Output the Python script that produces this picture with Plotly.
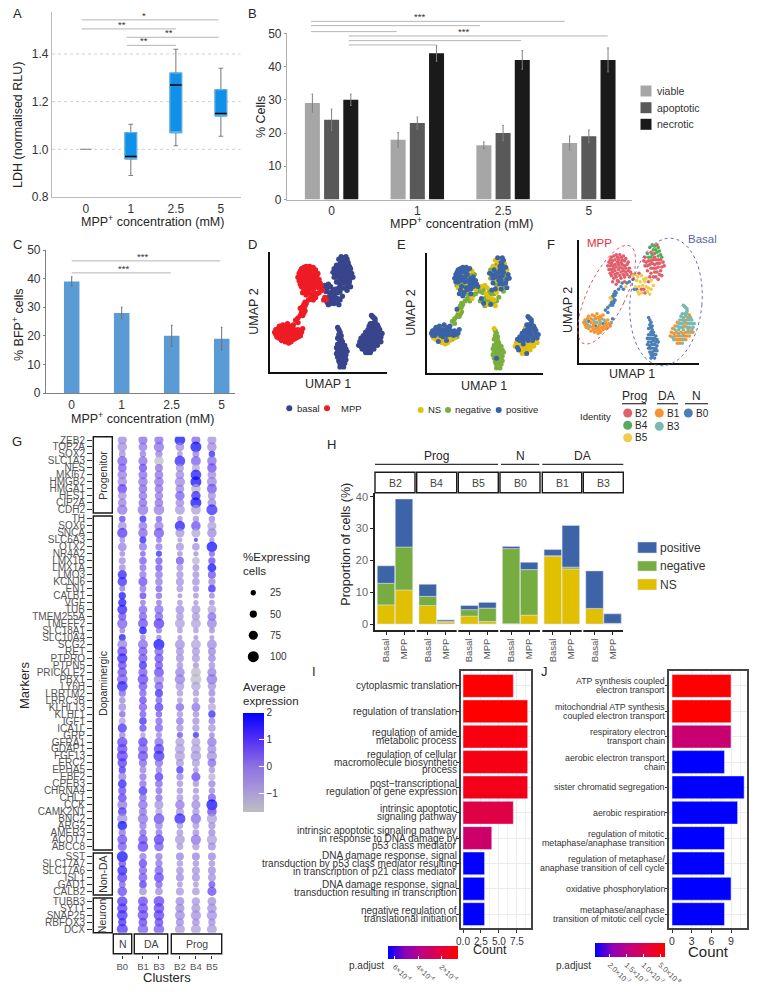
import numpy as np
import plotly.graph_objects as go

FONT = "Liberation Sans"
W, H = 761, 994

# ---------- Panel A ----------
a_cats = ["0", "1", "2.5", "5"]
a_low = [1.0, 0.89, 1.015, 1.055]
a_q1 = [1.0, 0.96, 1.07, 1.14]
a_med = [1.0, 0.97, 1.27, 1.15]
a_q3 = [1.0, 1.07, 1.32, 1.25]
a_high = [1.0, 1.105, 1.42, 1.34]
a_sig = [(-0.09, 2.95, 1.543, "*", 1.3), (-0.09, 2.0, 1.505, "**", 0.8),
         (0.91, 2.95, 1.47, "**", 1.85), (0.91, 2.0, 1.436, "**", 1.3)]

# ---------- Panel B ----------
b_cats = ["0", "1", "2.5", "5"]
b_viable = [29, 18, 16.3, 17]
b_apoptotic = [24, 23, 20, 19]
b_necrotic = [30, 44, 42, 42]
b_viable_err = [2.7, 2.2, 1.0, 2.1]
b_apoptotic_err = [3.2, 1.8, 2.3, 1.9]
b_necrotic_err = [1.7, 2.4, 2.8, 3.6]
b_sig = [(-0.24, 2.72, 53.6, "***", 1.02), (-0.24, 1.73, 52.3, "", 0), (-0.24, 0.76, 50.5, "", 0),
         (0.2, 3.22, 49.2, "***", 1.54), (0.2, 2.21, 47.8, "", 0), (0.2, 1.21, 46.5, "", 0)]

# ---------- Panel C ----------
c_cats = ["0", "1", "2.5", "5"]
c_vals = [39, 28, 20, 19]
c_err = [1.6, 2, 3.7, 4]
c_sig = [(0, 2.97, 46.2, "***", 1.42), (0, 1.98, 42, "***", 1.03)]

# ---------- UMAP (D, E, F): cells, in plot units 0-100 ----------
ll_top = [(4,33),(5,31),(5,35),(6,33),(7,36),(7,31),(8,34),(8,38),(9,30),(10,33),(10,36),(11,39),(12,31),(12,35),
          (13,33),(13,38),(14,30),(14,36),(15,33),(15,40),(16,37),(17,31),(17,35),(18,33),(18,38),(19,36),(20,32),
          (21,30),(21,35),(22,33),(23,31),(25,32),(26,30),(27,33),(20,39),(24,35),(28,36)]
ll_rim = [(6,29),(8,28),(10,26),(11,29),(12,27),(13,25),(14,28),(15,26),(16,24),(16,29),(17,27),(18,25),(19,29),
          (20,27),(22,28),(24,29)]
streak = [(22,43),(24,41),(24,45),(26,47),(27,49),(27,52),(28,50),(28,54),(29,52),(29,56),(30,55),(26,53),(30,58),
          (31,57),(33,60),(35,62),(37,60),(39,62),(36,65),(28,47),(29,49),(30,51),(45,68),(47,62),(46,60),(48,60),
          (42,66),(40,65)]
top_left = [(24,79),(25,76),(25,82),(26,73),(26,79),(26,84),(27,71),(27,76),(27,81),(27,86),(28,74),(28,79),(28,83),
            (29,69),(29,77),(29,87),(30,72),(30,75),(30,80),(30,84),(31,70),(31,78),(31,88),(32,67),(32,73),(32,82),
            (32,86),(33,76),(33,80),(33,84),(34,71),(34,78),(34,88),(35,69),(35,74),(35,82),(35,86),(36,77),(36,80),
            (36,84),(37,72),(37,75),(37,87),(38,70),(38,79),(38,83),(39,74),(39,77),(39,85),(40,72),(40,80),(41,75),
            (41,82),(42,70),(42,77),(43,74),(44,72),(28,66),(31,64),(33,66),(38,66)]
tr_top = [(59,94),(61,96),(63,95),(65,96),(66,94),(62,92),(64,92),(60,90),(57,89),(58,86),(61,88),(63,89),(65,90),
          (67,91),(68,88),(55,86),(60,86),(66,87),(69,86),(63,86)]
tr_low = [(54,83),(56,82),(58,83),(60,83),(62,84),(64,84),(66,84),(68,84),(70,82),(71,79),(55,79),(57,79),(59,80),
          (61,81),(63,80),(65,81),(67,81),(69,78),(60,77),(62,77),(64,77),(66,78),(68,75),(57,75),(60,73),(63,74),
          (65,74),(67,72),(69,71),(62,70),(64,70),(59,70),(66,68)]
bridge = [(45,71),(47,72),(49,70),(50,73),(52,71),(54,68),(55,66),(56,69),(58,66),(60,67),(48,67),(51,66),(53,63),
          (52,60),(50,62),(49,58),(50,56),(52,57),(54,60),(56,62),(58,61),(60,60),(62,63),(55,57),(57,58),(59,56)]
bottom_c = [(58,37),(59,35),(60,33),(59,31),(60,29),(61,30),(58,28),(61,27),(60,25),(62,25),(58,23),(60,23),(62,23),
            (64,22),(57,20),(59,20),(61,20),(63,20),(65,19),(58,17),(60,17),(62,18),(64,17),(66,17),(57,15),(59,14),
            (61,15),(63,15),(65,14),(58,12),(60,12),(62,12),(64,12),(59,9),(61,9),(63,10),(65,10),(60,7),(62,7),
            (64,7),(61,5),(63,4),(60,4)]
tail = [(87,47),(88,46),(89,45),(90,44),(90,42)]
right_up = [(86,40),(88,40),(90,40),(92,39),(85,38),(87,37),(89,38),(91,37),(93,37),(84,35),(86,35),(88,35),(90,35),
            (92,35),(94,35),(82,33),(84,32),(86,32),(88,33),(90,32),(92,32),(94,32),(96,32),(80,30),(82,30),(84,29),
            (86,29),(88,30),(90,29),(92,29),(95,29),(78,28),(80,27),(83,27),(87,27),(91,27),(94,27)]
right_low = [(77,25),(79,24),(81,25),(83,24),(85,25),(87,24),(89,25),(91,25),(93,25),(95,25),(76,22),(78,21),(80,22),
             (82,22),(84,22),(86,22),(88,22),(90,22),(92,22),(79,19),(81,19),(83,19),(85,19),(87,19),(89,19),(82,16),
             (84,16),(86,16)]
# group: points, condition, response pattern (P/G/Y), identity pattern
umap_groups = [
    (ll_top, "MPP", "PPPYPPPPGPPP", "1113110131"),
    (ll_rim, "MPP", "YYPYYYGY", "1"),
    (streak, "MPP", "GGGGGYGGGGGP", "000005"),
    (top_left, "MPP", "PPPGPPYPPPGYPP", "2"),
    (tr_top, "basal", "YPYPPYPG", "4442"),
    (tr_low, "basal", "PPGPPGPYPPG", "2"),
    (bridge, "basal", "GYGYYGGP", "55525"),
    (bottom_c, "basal", "YGGGGGGGGGGGGGGGGGGGGGGGGGGGGGPGGGGGGGGGGGG", "0"),
    (tail, "basal", "P", "3"),
    (right_up, "basal", "PPPPYPPP", "3331"),
    (right_low, "basal", "YYYPYYGY", "1113"),
]
d_colors = {"basal": "#38458C", "MPP": "#EE1C25"}
e_colors = {"G": "#7AAE3E", "Y": "#E3C010", "P": "#3B62A6"}
f_colors = {"2": "#E15F6B", "4": "#5BAA5B", "5": "#F2CB4A", "1": "#F49532", "3": "#78B9B0", "0": "#4C7FB5"}

# ---------- Panel G ----------
g_clusters = ["B0", "B1", "B3", "B2", "B4", "B5"]
g_groups = ["Progenitor", "Dopaminergic", "Non-DA", "Neuron"]
g_progenitor = ["ZEB2","TOP2A","SOX2","SLC1A3","NES","MKI67","HMGB2","HMGA1","HES1","CIP2A","CDH2"]
g_progenitor_pct = [[75,75,75,95,75,75],[80,70,90,70,100,80],[45,40,50,30,45,40],[85,75,80,95,85,80],[70,65,60,60,60,80],
    [80,75,70,70,95,70],[80,80,80,90,100,85],[80,70,70,70,80,85],[70,70,65,80,80,60],[70,70,70,70,100,70],[90,95,95,85,85,100]]
g_progenitor_expr = [[-.3,.3,.3,2,.4,-.5],[-.5,.1,.2,-.3,2,-.3],[-.5,0,0,-.5,0,1.5],[.5,.3,-1.5,1.6,.5,.3],[.5,.8,.2,-.5,-1,.8],
    [0,.3,.2,-.3,1.8,-.3],[-.3,.2,.2,-.3,2,-.2],[1,.3,.2,-.2,-1.2,.7],[-.5,.2,.1,.5,1.5,-.4],[-.1,.3,.2,-.3,2,-.2],[.1,.1,0,-.7,-.8,1.5]]
g_dopa = ["TH","SOX6","SNCA","SLC6A3","OTX2","NR4A2","LMX1B","LMX1A","LMO3","KCNJ6","EN1","CALB1","VGF","TUB","TMEM255A",
    "TMEFF2","SLC18A1","SLC10A4","SCG2","RET","PTPRO","PTPN5","PRICKLE2","PBX1","LY6H","LRRTM2","LRRC3B","KLHL13","KLHL1",
    "IGF1","ICA1L","GRP","GFRA1","GDAP1","FGF13","ERC2","EPHA5","EBF2","CPEB3","CHRNA4","CHL1","CCK","CAMK2N1","BNC2","ARG2",
    "AMER3","ACOT7","ABCC8"]
g_dopa_pct = [[40,45,40,30,40,40],[70,70,75,90,80,75],[90,80,90,75,75,80],[30,45,30,20,8,25],[70,60,50,60,55,95],[30,30,35,30,25,35],
    [45,55,50,60,55,50],[45,45,50,45,45,70],[75,50,55,50,45,60],[80,75,55,60,55,50],[35,45,45,45,40,55],[50,45,40,20,30,30],
    [65,30,30,30,25,30],[85,70,75,70,75,70],[60,60,65,55,60,70],[90,85,95,85,85,85],[30,55,35,30,30,35],[45,30,25,20,20,20],
    [85,85,100,85,85,85],[85,75,75,60,60,60],[90,75,75,60,60,55],[70,60,60,40,35,40],[80,75,85,80,85,75],[95,95,90,90,100,95],
    [95,70,70,70,80,65],[50,50,60,40,40,45],[40,55,45,30,30,40],[55,65,70,65,70,60],[40,45,40,40,40,50],[45,55,50,55,50,45],
    [75,50,60,50,50,55],[40,25,35,35,35,30],[90,80,75,75,75,80],[90,85,90,85,85,75],[100,90,100,90,95,90],[80,65,65,60,60,70],
    [50,45,40,50,30,40],[60,50,70,50,75,50],[70,50,55,40,40,50],[60,70,45,40,35,40],[70,55,50,45,45,60],[85,80,75,80,75,100],
    [70,60,50,60,50,80],[90,90,95,100,90,90],[80,50,55,40,45,50],[50,50,45,45,45,50],[85,80,90,85,90,90],[75,95,80,45,50,60]]
g_dopa_expr = [[1,1.5,.5,-.5,-.4,-.2],[-.5,.1,0,1.8,.8,-.8],[1.1,.4,.7,-.6,-1,-.3],[-.3,1.6,.3,-.7,1.3,-.4],[-.1,.2,.1,-.5,-.5,2],
    [-.2,.5,1.5,-.4,-.4,.5],[-.3,.6,.7,.7,-1.3,.9],[-.3,.3,.7,-.5,-.4,2],[1.6,.1,.2,-.5,-.5,.8],[1.4,.8,.1,-.4,-.5,-.1],
    [.1,.2,.5,-.6,-.4,1.5],[1.9,1,.3,-.5,-.5,0],[1.8,.2,.2,-.6,-.6,-.3],[1.6,.4,.3,-.4,-.7,-.9],[.8,.5,.5,-.6,-.7,.3],
    [.5,.8,1.1,-.8,-.9,-.1],[0,2,.2,-.6,-.7,-.3],[1.8,-.1,0,-.5,-.5,-.5],[-.1,.3,2,-.4,-.9,-.3],[.9,.6,.5,-.5,-.6,-.2],
    [1.5,.7,.8,-.4,-.7,-.2],[.9,1.4,.8,-.5,-.4,-.4],[.8,.6,.9,-.1,-1.4,-.1],[.5,.9,-.2,0,-1.5,.1],[1.6,.7,.5,-.7,-1,-.5],
    [.4,.5,1.4,-.7,-.6,-.2],[-.2,.9,.5,-.7,-.6,-.2],[-.3,.6,1.1,.4,.2,-1],[.4,.6,.6,-.5,-.4,1.5],[-.8,1.4,.4,.1,-.5,0],
    [1.3,.9,.5,-.4,-.6,-.6],[-.2,-.7,-.1,.8,1.5,-.1],[1,1.1,.3,-.8,-.9,.1],[.9,.5,1.1,-.8,-.9,-.4],[1,.8,1.3,-.8,-.7,-.5],
    [1.1,.4,.3,-.6,-.8,.3],[1.3,0,0,1.3,-.5,-.5],[0,.2,1.2,-.1,.9,-1.2],[1.6,.3,.4,-.5,-.5,-.1],[.9,1.3,.3,-.5,-.5,-.2],
    [1,.3,.3,-.6,-.6,.6],[.1,.3,-.5,.1,-.3,2],[1.2,.2,-1,-.6,-.6,.9],[-.4,.2,.8,1.6,.3,-.8],[2,.1,0,-.6,-.6,-.4],
    [.2,.4,.2,-.6,-.5,-.3],[.8,.8,1.1,-.7,.2,-.8],[.6,1,.6,-.6,-.7,-.4]]
g_nonda = ["SST","SLC17A7","SLC17A6","ISL1","GAD1","CALB2"]
g_nonda_pct = [[100,50,50,60,60,60],[55,65,50,40,40,40],[85,65,70,55,60,60],[85,70,85,60,60,60],[45,55,50,30,30,45],[80,55,55,60,55,75]]
g_nonda_expr = [[2,.1,.1,-.1,-.1,-.2],[.8,1,.2,-.6,-.5,-.5],[1.6,.5,.5,-.4,-.5,-.3],[1.1,.6,1,-.3,-.5,-.4],[.5,1.1,.5,-.5,-.6,.8],[.9,-.4,-.3,-.6,-.7,.9]]
g_neuron = ["TUBB3","SYT1","SNAP25","RBFOX3","DCX"]
g_neuron_pct = [[90,85,95,70,65,70],[90,90,95,75,75,80],[95,95,95,85,90,90],[65,70,70,60,55,50],[100,95,95,85,85,85]]
g_neuron_expr = [[1.2,.9,1,-.3,-.6,-.4],[1.1,.8,.9,-.3,-.6,-.4],[1.3,.8,1,-.3,-.5,-.4],[1.3,.9,.9,-.3,-.5,-.4],[1.2,.5,.6,-.7,-.8,-.7]]
g_legend_pct = [25, 50, 75, 100]

# ---------- Panel H ----------
h_clusters = ["B2", "B4", "B5", "B0", "B1", "B3"]
h_conditions = ["Basal", "MPP"]
h_ns = [6, 10.7, 5.8, .6, 2.5, .8, .1, 2.8, 21.4, 17.3, 4.9, .2]
h_negative = [6.8, 13.5, 2.9, .3, 2, 4.2, 23.6, 14.3, .1, .6, 0, 0]
h_positive = [5.5, 15.1, 3.8, .4, 1.3, 1.8, .7, 2.3, 1.9, 13.1, 11.8, 3]

# ---------- Panel I ----------
i_terms = ["cytoplasmic translation", "regulation of translation", "regulation of amide\nmetabolic process",
           "regulation of cellular\nmacromolecule biosynthetic\nprocess",
           "post\u2212transcriptional\nregulation of gene expression", "intrinsic apoptotic\nsignaling pathway",
           "intrinsic apoptotic signaling pathway\nin response to DNA damage by\np53 class mediator",
           "DNA damage response, signal\ntransduction by p53 class mediator resulting\nin transcription of p21 class mediator",
           "DNA damage response, signal\ntransduction resulting in transcription",
           "negative regulation of\ntranslational initiation"]
i_count = [7, 9, 9, 9, 9, 7, 4, 3, 3, 3]
i_padj = [0.57e-4, 0.57e-4, 0.9e-4, 1.05e-4, 1.17e-4, 2.26e-4, 3.1e-4, 6.6e-4, 6.6e-4, 6.6e-4]
i_ticks = [6e-4, 4e-4, 2e-4]
i_ticktext = ["6\u00d710<sup>-4</sup>", "4\u00d710<sup>-4</sup>", "2\u00d710<sup>-4</sup>"]

# ---------- Panel J ----------
j_terms = ["ATP synthesis coupled\nelectron transport", "mitochondrial ATP synthesis\ncoupled electron transport",
           "respiratory electron\ntransport chain", "aerobic electron transport\nchain", "sister chromatid segregation",
           "aerobic respiration", "regulation of mitotic\nmetaphase/anaphase transition",
           "regulation of metaphase/\nanaphase transition of cell cycle", "oxidative phosphorylation",
           "metaphase/anaphase\ntransition of mitotic cell cycle"]
j_count = [9, 9, 9, 8, 11, 10, 8, 8, 9, 8]
j_padj = [.364e-7, .364e-7, 1.3e-7, 2.44e-7, 2.44e-7, 2.44e-7, 2.44e-7, 2.44e-7, 2.44e-7, 2.44e-7]
j_ticks = [2e-7, 1.5e-7, 1e-7, .5e-7]
j_ticktext = ["2.0\u00d710<sup>-7</sup>", "1.5\u00d710<sup>-7</sup>", "1.0\u00d710<sup>-7</sup>", "5.0\u00d710<sup>-8</sup>"]


# ---------- helpers ----------
def PX(x):
    return x / W

def PY(y):
    return 1 - y / H

fig = go.Figure()
layout = dict(width=W, height=H, margin=dict(l=0, r=0, t=0, b=0, autoexpand=False), autosize=False,
              paper_bgcolor="white", plot_bgcolor="rgba(0,0,0,0)", showlegend=False,
              barmode="overlay", font=dict(family=FONT, color="#333333"))
shapes, annots = [], []

def txt(x, y, s, size=12, color="#262626", anchor="center", angle=0, yanchor="middle"):
    annots.append(dict(xref="paper", yref="paper", x=PX(x), y=PY(y), text=s, showarrow=False, textangle=angle,
                       xanchor=anchor, yanchor=yanchor, borderpad=0, borderwidth=0,
                       font=dict(family=FONT, size=size, color=color)))

def rect(x0, y0, x1, y1, fill="white", line="#1a1a1a", lw=1.4):
    shapes.append(dict(type="rect", xref="paper", yref="paper", x0=PX(x0), x1=PX(x1), y0=PY(y0), y1=PY(y1),
                       fillcolor=fill, line=dict(color=line, width=lw)))

def hline(x0, x1, y, color="#BDBDBD", lw=1):
    shapes.append(dict(type="line", xref="paper", yref="paper", x0=PX(x0), x1=PX(x1), y0=PY(y), y1=PY(y),
                       line=dict(color=color, width=lw)))

def dot(x, y, d, color):
    shapes.append(dict(type="circle", xref="paper", yref="paper", x0=PX(x - d / 2), x1=PX(x + d / 2),
                       y0=PY(y - d / 2), y1=PY(y + d / 2), fillcolor=color, line=dict(width=0)))

def panel(n, box, xr, yr, xopts=None, yopts=None):
    x0, y0, x1, y1 = box  # left, top, right, bottom in pixels
    sx = "" if n == 1 else str(n)
    xa = dict(domain=[PX(x0), PX(x1)], range=xr, anchor="y" + sx, showgrid=False, zeroline=False,
              tickfont=dict(size=12, color="#333333"), ticks="")
    ya = dict(domain=[PY(y1), PY(y0)], range=yr, anchor="x" + sx, showgrid=False, zeroline=False,
              tickfont=dict(size=12, color="#333333"), ticks="")
    xa.update(xopts or {})
    ya.update(yopts or {})
    layout["xaxis" + sx] = xa
    layout["yaxis" + sx] = ya
    return "x" + sx, "y" + sx

def sig(box, xr, yr, items, color="#B5B5B5", lw=1):
    x0, y0, x1, y1 = box
    fx = lambda v: x0 + (v - xr[0]) / (xr[1] - xr[0]) * (x1 - x0)
    fy = lambda v: y1 - (v - yr[0]) / (yr[1] - yr[0]) * (y1 - y0)
    for a, b, y, label, lx in items:
        hline(fx(a), fx(b), fy(y), color, lw)
        if label:
            txt(fx(lx), fy(y) - 4.5, label, size=9.5, color="#333333")

# ---------- A ----------
box_a = (52, 12, 240.7, 197)
xr_a, yr_a = [-0.75, 3.44], [0.8, 1.576]
xa, ya = panel(1, box_a, xr_a, yr_a,
               dict(tickvals=[0, 1, 2, 3], ticktext=a_cats, showline=True, linecolor="#BBBBBB", linewidth=1.2),
               dict(tickvals=[0.8, 1.0, 1.2, 1.4], ticktext=["0.8", "1.0", "1.2", "1.4"], showline=True,
                    linecolor="#BBBBBB", linewidth=1.2))
pos = [0, 1, 2, 3]
blue = "#1090E8"
fig.add_trace(go.Box(x=pos, q1=a_q1, median=a_q1, q3=a_q3, lowerfence=a_low, upperfence=a_high, width=0.26,
                     whiskerwidth=0.4, boxpoints=False, fillcolor=blue, line=dict(color="#808080", width=1.1),
                     xaxis=xa, yaxis=ya))
fig.add_trace(go.Box(x=pos[1:], q1=a_q1[1:], median=a_q1[1:], q3=a_q3[1:], lowerfence=a_q1[1:], upperfence=a_q3[1:],
                     width=0.26, boxpoints=False, fillcolor=blue, line=dict(color="#58B4F0", width=1),
                     xaxis=xa, yaxis=ya))
fig.add_trace(go.Box(x=pos[1:], q1=a_med[1:], median=a_med[1:], q3=a_med[1:], lowerfence=a_med[1:], upperfence=a_med[1:],
                     width=0.26, boxpoints=False, line=dict(color="black", width=1.4), xaxis=xa, yaxis=ya))
for g in [1.0, 1.2, 1.4]:
    shapes.append(dict(type="line", xref=xa, yref=ya, x0=xr_a[0], x1=xr_a[1], y0=g, y1=g, layer="below",
                       line=dict(color="#D0D0D0", width=1, dash="dot")))
sig(box_a, xr_a, yr_a, a_sig)
txt(17, 13, "A", 13)
txt(18, 125, "LDH (normalised RLU)", 12.5, angle=-90)
txt(152, 221, "MPP<sup>+</sup> concentration (mM)", 12.5)

# ---------- B ----------
box_b = (287, 33.3, 631.7, 199.5)
xr_b, yr_b = [-0.52, 3.5], [0, 50]
xb, yb = panel(2, box_b, xr_b, yr_b,
               dict(tickvals=pos, ticktext=b_cats, showline=True, linecolor="#B0B0B0", linewidth=1.2),
               dict(tickvals=[0, 10, 20, 30, 40, 50], showline=True, linecolor="#B0B0B0", linewidth=1.2,
                    ticks="outside", ticklen=2, tickcolor="#999999"))
for off, vals, errs, col in [(-0.224, b_viable, b_viable_err, "#A6A6A6"),
                             (0, b_apoptotic, b_apoptotic_err, "#595959"),
                             (0.224, b_necrotic, b_necrotic_err, "#1A1A1A")]:
    fig.add_trace(go.Bar(x=pos, y=vals, width=0.175, offset=off - 0.0875, marker=dict(color=col, line=dict(width=0)),
                         error_y=dict(type="data", array=errs, color="#808080", thickness=1, width=0.8),
                         xaxis=xb, yaxis=yb))
sig(box_b, xr_b, yr_b, b_sig)
txt(253, 13, "B", 13)
txt(261, 117, "% Cells", 12.5, angle=-90)
txt(461.7, 223, "MPP<sup>+</sup> concentration (mM)", 12.5)
for y, name, col in [(91, "viable", "#A6A6A6"), (107.7, "apoptotic", "#595959"), (124.3, "necrotic", "#1A1A1A")]:
    rect(640.5, y - 5.5, 651.5, y + 5.5, fill=col, line=col, lw=0)
    txt(656.7, y, name, 10.5, color="#333333", anchor="left")

# ---------- C ----------
box_c = (46, 250, 235, 393)
xr_c, yr_c = [-0.514, 3.266], [0, 50]
xc, yc = panel(3, box_c, xr_c, yr_c,
               dict(tickvals=pos, ticktext=c_cats, showline=True, linecolor="#808080", linewidth=1.2),
               dict(tickvals=[0, 10, 20, 30, 40, 50], showline=True, linecolor="#808080", linewidth=1.2,
                    ticks="outside", ticklen=2, tickcolor="#808080"))
fig.add_trace(go.Bar(x=pos, y=c_vals, width=0.31, marker=dict(color="#5B9BD5", line=dict(width=0)),
                     error_y=dict(type="data", array=c_err, color="#707070", thickness=1, width=0.8),
                     xaxis=xc, yaxis=yc))
sig(box_c, xr_c, yr_c, c_sig)
txt(17, 244, "C", 13)
txt(18, 325, "% BFP<sup>+</sup> cells", 12.5, angle=-90)
txt(142.3, 418, "MPP<sup>+</sup> concentration (mM)", 12.5)

# ---------- UMAP panels ----------
umap_ax = dict(showline=True, linecolor="#111111", linewidth=1.5, showticklabels=False)
xd, yd = panel(4, (270, 252, 386.7, 371.7), [0, 100], [0, 100], umap_ax, umap_ax)
xe, ye = panel(5, (426.7, 253, 543, 372.7), [0, 100], [0, 100], umap_ax, umap_ax)
xf, yf = panel(6, (579, 240, 699, 363), [0, 100], [0, 100], umap_ax, umap_ax)

cells = []
for pts, cond, resp, ident in umap_groups:
    for i, (u, v) in enumerate(pts):
        cells.append((u, v, cond, resp[i % len(resp)], ident[i % len(ident)]))

for cond in ["basal", "MPP"]:
    sel = [c for c in cells if c[2] == cond]
    fig.add_trace(go.Scatter(x=[c[0] for c in sel], y=[c[1] for c in sel], mode="markers",
                             marker=dict(size=5.4, color=d_colors[cond], line=dict(width=0)), xaxis=xd, yaxis=yd))
for r in ["G", "Y", "P"]:
    sel = [c for c in cells if c[3] == r]
    fig.add_trace(go.Scatter(x=[c[0] for c in sel], y=[c[1] for c in sel], mode="markers",
                             marker=dict(size=5, color=e_colors[r], line=dict(width=0)), xaxis=xe, yaxis=ye))
for k in ["0", "1", "3", "2", "4", "5"]:
    sel = [c for c in cells if c[4] == k]
    fig.add_trace(go.Scatter(x=[c[0] for c in sel], y=[c[1] for c in sel], mode="markers",
                             marker=dict(size=3.6, color=f_colors[k], line=dict(width=0)), xaxis=xf, yaxis=yf))

txt(253, 244, "D", 13)
txt(328, 384, "UMAP 1", 12.5)
txt(254, 311.7, "UMAP 2", 12.5, angle=-90)
for x, col in [(289.3, d_colors["basal"]), (327, d_colors["MPP"])]:
    dot(x, 408.3, 6, col)
txt(296.7, 408.3, "basal", 9.5, anchor="left")
txt(340.7, 408.3, "MPP", 9.5, anchor="left")

txt(401.7, 244, "E", 13)
txt(484, 386, "UMAP 1", 12.5)
txt(411, 312.7, "UMAP 2", 12.5, angle=-90)
for x, col in [(420.7, e_colors["Y"]), (448, e_colors["G"]), (498.7, e_colors["P"])]:
    dot(x, 410, 6, col)
txt(428, 410, "NS", 9.5, anchor="left")
txt(455, 410, "negative", 9.5, anchor="left")
txt(505.7, 410, "positive", 9.5, anchor="left")

txt(551, 244, "F", 13)
txt(631.7, 374, "UMAP 1", 12.5)
txt(568, 310, "UMAP 2", 12.5, angle=-90)
txt(599, 243, "MPP", 11.5, color="#E0303F")
txt(702, 239, "Basal", 11.5, color="#5B63A8")

def ellipse(cx, cy, a, b, tilt, color):
    t = np.linspace(0, 2 * np.pi, 60)
    th = np.radians(tilt)
    ex = a * np.sin(t) * np.sin(th) + b * np.cos(t) * np.cos(th)
    ey = -a * np.sin(t) * np.cos(th) + b * np.cos(t) * np.sin(th)
    path = "M " + " L ".join(f"{PX(cx + p):.4f},{PY(cy + q):.4f}" for p, q in zip(ex, ey)) + " Z"
    shapes.append(dict(type="path", xref="paper", yref="paper", path=path, line=dict(color=color, width=0.9, dash="dot")))

ellipse(230 + 1130 / 3, 220 + 224 / 3, 54, 19, 25.6, "#E0404A")
ellipse(230 + 1308 / 3, 220 + 246 / 3, 64, 36, 5, "#5560B0")

for x0, x1, y, s, tx in [(622, 646, 403.7, "Prog", 634), (657, 678, 403.7, "DA", 666), (685, 708, 403.7, "N", 696)]:
    hline(x0, x1, y, "#333333", 1.2)
    txt(tx, 396, s, 12)
txt(595, 416, "Identity", 9.5)
for x, y, s, k in [(627.7, 413, "B2", "2"), (627.7, 425.3, "B4", "4"), (627.7, 437.7, "B5", "5"),
                   (659.3, 413, "B1", "1"), (659.3, 426.3, "B3", "3"), (688.3, 413, "B0", "0")]:
    dot(x, y, 9, f_colors[k])
    txt(x + 7.3, y, s, 10, anchor="left")

# ---------- G ----------
g_cluster_pos = [0, 1.29, 2.29, 3.6, 4.6, 5.6]
step = 6.97
group_rows = [(g_progenitor, g_progenitor_pct, g_progenitor_expr), (g_dopa, g_dopa_pct, g_dopa_expr),
              (g_nonda, g_nonda_pct, g_nonda_expr), (g_neuron, g_neuron_pct, g_neuron_expr)]
group_gaps = [0, 1.33, 1.43, 1.43]
ypos, labels, dx, dy, ds, dc = [], [], [], [], [], []
cur = 0.0
for (genes, pct, expr), gap in zip(group_rows, group_gaps):
    cur += gap
    for i, gene in enumerate(genes):
        ypos.append(cur)
        labels.append(gene)
        for j in range(6):
            dx.append(g_cluster_pos[j])
            dy.append(cur)
            ds.append(3.5 + 0.075 * pct[i][j])
            dc.append(expr[i][j])
        cur += 1
    cur -= 1
layout_xr = [(113 - 122.3) / 16, (222 - 122.3) / 16]
layout_yr = [(932.7 - 440) / step, (436.7 - 440) / step]
xg, yg = panel(7, (113, 436.7, 222, 932.7), layout_xr, layout_yr,
               dict(tickvals=g_cluster_pos, ticktext=g_clusters, anchor="free", position=PY(954.5), ticks="outside",
                    ticklen=3, tickcolor="#333333", tickfont=dict(size=9.5, color="#555555")),
               dict(tickvals=ypos, ticktext=labels, anchor="free", position=PX(92), ticks="outside", ticklen=5,
                    tickcolor="#333333", tickfont=dict(size=10, color="#555555")))
g_scale = [[0, "#BEBEBE"], [0.18, "#AC9FD6"], [0.455, "#8E72E2"], [0.727, "#5530F5"], [1, "#0000FF"]]
fig.add_trace(go.Scatter(x=dx, y=dy, mode="markers", xaxis=xg, yaxis=yg,
                         marker=dict(size=ds, color=dc, cmin=-1.67, cmax=2, colorscale=g_scale, line=dict(width=0),
                                     colorbar=dict(x=PX(242.7), xanchor="left", y=PY(712.7), yanchor="top", xpad=0, ypad=0,
                                                   len=99, lenmode="pixels", thickness=21, thicknessmode="pixels",
                                                   outlinewidth=0, tickvals=[-1, 0, 1, 2], ticks="inside", ticklen=5,
                                                   tickcolor="white", tickfont=dict(size=10, color="#333333")))))
for y0, y1, s in [(436.7, 513, "Progenitor"), (516, 850, "Dopaminergic"), (853, 895, "Non-DA"), (898, 932.7, "Neuron")]:
    rect(93.3, y0, 112.3, y1)
    txt(102.8, (y0 + y1) / 2, s, 10.5, angle=-90, color="#333333")
for x0, x1, s in [(113.3, 131.7, "N"), (134.3, 167.7, "DA"), (171.3, 221.7, "Prog")]:
    rect(x0, 934, x1, 953.7)
    txt((x0 + x1) / 2, 944, s, 10.5, color="#444444")
txt(17, 441.7, "G", 13)
txt(24, 685, "Markers", 13, angle=-90)
txt(167, 977, "Clusters", 13)
txt(242.7, 557, "%Expressing", 11.5, anchor="left")
txt(242.7, 570.7, "cells", 11.5, anchor="left")
for p, y in zip(g_legend_pct, [592.7, 614, 635.3, 656.7]):
    dot(253.3, y, 3.5 + 0.075 * p, "black")
    txt(270, y, str(p), 10, anchor="left", color="#333333")
txt(242.7, 687, "Average", 11.5, anchor="left")
txt(242.7, 701, "expression", 11.5, anchor="left")

# ---------- H ----------
h_x = []
for g in range(6):
    h_x += [g * 2.317, g * 2.317 + 1]
h_xr = [(375 - 386) / 18, (623.3 - 386) / 18]
h_yr = [(624 - 630) / 3.18, (624 - 492.7) / 3.18]
xh, yh = panel(8, (375, 492.7, 623.3, 630), h_xr, h_yr,
               dict(tickvals=h_x, ticktext=h_conditions * 6, tickangle=-90, showline=True, linecolor="#222222",
                    linewidth=1.5, ticks="outside", ticklen=3, tickcolor="#222222",
                    tickfont=dict(size=9.5, color="#555555")),
               dict(tickvals=[0, 10, 20, 30, 40], showline=True, linecolor="#222222", linewidth=1.5, ticks="outside",
                    ticklen=3, tickcolor="#222222", tickfont=dict(size=11, color="#666666")))
base = [0.0] * 12
for vals, col in [(h_ns, "#E0C000"), (h_negative, "#77AC41"), (h_positive, "#3E64A8")]:
    fig.add_trace(go.Bar(x=h_x, y=vals, base=list(base), width=0.97, xaxis=xh, yaxis=yh,
                         marker=dict(color=col, line=dict(color="#DCE3EE", width=0.5))))
    base = [b + v for b, v in zip(base, vals)]
for a, b in [(415, 416.7), (456.7, 458.3), (498.3, 500), (540, 542.3), (581.7, 583.3)]:
    rect(a, 629, b, 635, fill="white", line="white", lw=0)
for s, x0, x1 in zip(h_clusters, [375, 416.7, 458.3, 500, 542.3, 583.3], [415, 456.7, 498.3, 540, 581.7, 623.3]):
    rect(x0, 472.3, x1, 492.7)
    txt((x0 + x1) / 2, 482.5, s, 10.5, color="#444444")
for s, x, x0, x1 in [("Prog", 436.7, 375, 498), ("N", 520, 501, 539.3), ("DA", 582, 542.3, 623.3)]:
    txt(x, 455.7, s, 12)
    hline(x0, x1, 464.3, "#333333", 1.3)
txt(331.7, 444, "H", 13)
txt(345.7, 544, "Proportion of cells (%)", 12.5, angle=-90)
for (y0, y1), s, col in zip([(542, 553), (561, 571), (579, 590)], ["positive", "negative", "NS"],
                            ["#3E64A8", "#77AC41", "#E0C000"]):
    rect(637.7, y0, 656.7, y1, fill=col, line="#DCE3EE", lw=0.5)
    txt(660, (y0 + y1) / 2, s, 12, anchor="left", color="#333333")

# ---------- I / J ----------
padj_scale = [[0, "#0000FF"], [0.25, "#8F00B9"], [0.5, "#C1007C"], [0.75, "#E4003F"], [1, "#FF0000"]]

def enrich(n, box, xr, yr, count, padj, terms, tickv, tickt, xticks, xtxt, minor, cbox, lab_right, lab_size, lab_gap, cmin, cmax, tfont):
    xn, yn = panel(n, box, xr, yr,
                   dict(tickvals=xticks, ticktext=xtxt, showline=True, mirror=True, linecolor="#444444", linewidth=1.5,
                        ticks="outside", ticklen=2.5, tickcolor="#333333", showgrid=True, gridcolor="#EBEBEB",
                        gridwidth=0.8, tickfont=dict(size=tfont, color="#333333"),
                        minor=dict(tickvals=minor, showgrid=True, gridcolor="#F2F2F2", gridwidth=0.5)),
                   dict(tickvals=list(range(10)), showticklabels=False, showline=True, mirror=True, linecolor="#444444",
                        linewidth=1.5, ticks="outside", ticklen=2.5, tickcolor="#333333", showgrid=True,
                        gridcolor="#EBEBEB", gridwidth=0.8))
    fig.add_trace(go.Bar(
        y=list(range(10)), x=count, orientation="h", width=0.9, xaxis=xn, yaxis=yn,
        marker=dict(color=[-p for p in padj], cmin=-cmax, cmax=-cmin,
                    colorscale=padj_scale, line=dict(color="#E8E8FF", width=0.5),
                    colorbar=dict(orientation="h", x=PX(cbox[0]), xanchor="left", y=PY(cbox[1]), yanchor="top",
                                  len=cbox[2] - cbox[0], lenmode="pixels", thickness=cbox[3] - cbox[1],
                                  thicknessmode="pixels", xpad=0, ypad=0, outlinewidth=0, tickvals=[-v for v in tickv],
                                  ticktext=tickt, tickangle=45, ticks="inside", ticklen=3, tickcolor="white",
                                  tickfont=dict(size=7.5, color="#555555")))))
    for i, term in enumerate(terms):
        lines = term.split("\n")
        for k, line in enumerate(lines):
            annots.append(dict(xref="paper", yref=yn, x=PX(lab_right), y=i, text=line, showarrow=False,
                               xanchor="right", yanchor="middle", borderpad=0, borderwidth=0,
                               yshift=-(k - (len(lines) - 1) / 2) * lab_gap,
                               font=dict(family=FONT, size=lab_size, color="#333333")))

enrich(9, (460.7, 671, 530.7, 928.3), [-0.32, 9.42], [9.56, -0.59], i_count, i_padj, i_terms, i_ticks, i_ticktext,
       [0, 2.5, 5, 7.5], ["0.0", "2.5", "5.0", "7.5"], [1.25, 3.75, 6.25, 8.75],
       (388, 946, 458.3, 959.3), 457, 10, 7.8, 0.57e-4, 6.6e-4, 10)
enrich(10, (669, 671, 746.7, 928.3), [-0.46, 11.39], [9.56, -0.59], j_count, j_padj, j_terms, j_ticks, j_ticktext,
       [0, 3, 6, 9], ["0", "3", "6", "9"], [1.5, 4.5, 7.5, 10.5],
       (595, 943.3, 665.3, 957.3), 665, 8.8, 9, 0.364e-7, 2.44e-7, 10.5)
txt(314, 671, "I", 13)
txt(544, 671, "J", 13)
txt(490, 950, "Count", 12.5)
txt(708, 951.7, "Count", 15)
txt(366, 965.7, "p.adjust", 10, color="#333333")
txt(573, 965, "p.adjust", 10, color="#333333")

layout["shapes"] = shapes
layout["annotations"] = annots
fig.update_layout(**layout)
fig.write_html("out.html", config={"displayModeBar": False},
               post_script="document.body.style.margin='0';document.body.style.overflow='hidden';")
